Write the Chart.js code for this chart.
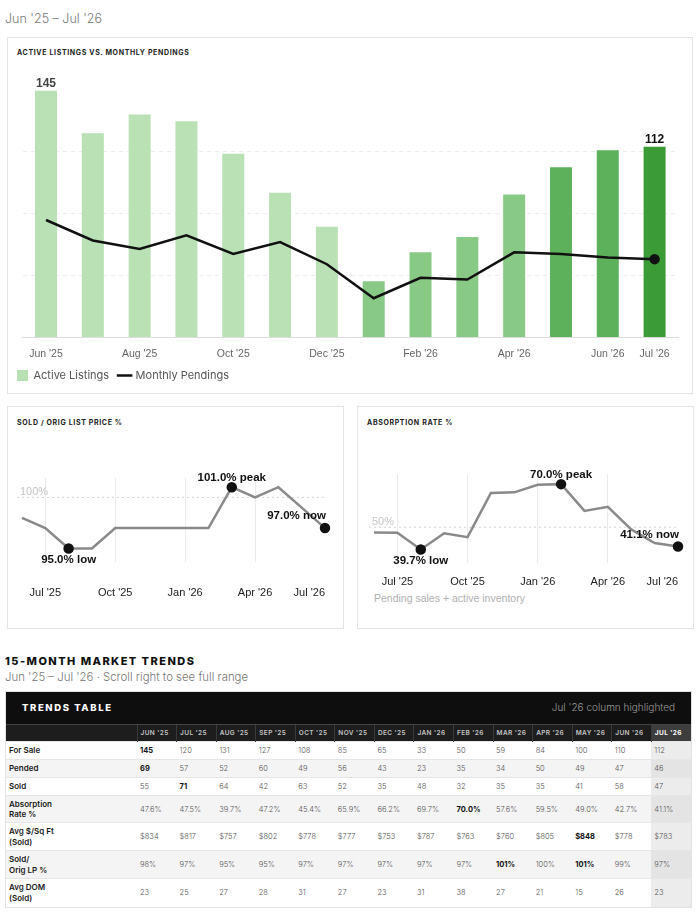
<!DOCTYPE html>
<html>
<head>
<meta charset="utf-8">
<script src="https://cdn.jsdelivr.net/npm/chart.js@4.4.1/dist/chart.umd.min.js"></script>
<style>
  body { margin: 0; width: 700px; height: 924px; background: #fff; position: relative; overflow: hidden;
         font-family: Inter, "Open Sans", sans-serif; }
  .abs { position: absolute; }
  .card { position: absolute; box-sizing: border-box; border: 1px solid #e4e4e4; background: #fff; }
  .ctitle { position: absolute; font-size: 7px; font-weight: 700; letter-spacing: 0.65px; color: #222; white-space: nowrap; }
  .range { left: 5px; top: 11px; font-size: 12.5px; font-weight: 300; color: #777; }
  .note { font-family: "Liberation Sans", Arial, sans-serif; font-size: 10.5px; color: #b0b0b0; }
  .secTitle { left: 5px; top: 654px; font-size: 11px; font-weight: 800; letter-spacing: 1.45px; color: #111; }
  .secSub { left: 5px; top: 670px; font-size: 11.4px; font-weight: 300; color: #777; }
  .tbox { left: 5px; top: 691px; width: 687px; border: 1px solid #e2e2e2; box-sizing: border-box; background: #fff; }
  .band { height: 32px; background: #0e0e0e; position: relative; }
  .band .t { position: absolute; left: 16px; top: 10px; color: #fff; font-size: 9.5px; font-weight: 800; letter-spacing: 1.6px; }
  .band .r { position: absolute; right: 16px; top: 9px; color: #9a9a9a; font-size: 10px; font-weight: 300; }
  table { border-collapse: collapse; table-layout: fixed; width: 685px; }
  th { background: #1d1d1d; color: #c4c4c4; font-size: 6.5px; font-weight: 600; letter-spacing: 0.4px; text-align: left;
       padding: 0 0 0 3px; height: 16px; border-left: 1px solid #3a3a3a; border-top: 1px solid #444; white-space: nowrap; }
  th.hl { background: #3d3d3d; color: #fff; font-weight: 700; }
  th.lab { border-left: none; }
  td { font-size: 7.5px; font-weight: 300; color: #555; padding: 0 0 0 3px; border-top: 1px solid #e6e6e6; white-space: nowrap; }
  td.lab { font-size: 8px; font-weight: 600; color: #1a1a1a; padding-left: 3px; white-space: normal; line-height: 10.5px; }
  td.b { font-weight: 700; color: #111; }
  tr.alt td { background: #f4f4f4; }
  td.hl { background: #ececec; }
  tr.alt td.hl { background: #e4e4e4; }
</style>
</head>
<body>
<div class="abs range">Jun '25 – Jul '26</div>

<div class="card" style="left:7px; top:37px; width:686px; height:357px;"></div>
<div class="ctitle" style="left:17px; top:48px;">ACTIVE LISTINGS VS. MONTHLY PENDINGS</div>
<div class="abs" style="left:7px; top:62px; width:679px; height:329px;"><canvas id="mainChart"></canvas></div>

<div class="card" style="left:7px; top:406px; width:337px; height:223px;"></div>
<div class="ctitle" style="left:17px; top:418px;">SOLD / ORIG LIST PRICE %</div>
<div class="abs" style="left:7px; top:436px; width:336px; height:164px;"><canvas id="lpChart"></canvas></div>

<div class="card" style="left:357px; top:406px; width:337px; height:223px;"></div>
<div class="ctitle" style="left:367px; top:418px;">ABSORPTION RATE %</div>
<div class="abs" style="left:357px; top:436px; width:336px; height:153px;"><canvas id="absChart"></canvas></div>
<div class="abs note" style="left:374px; top:592px;">Pending sales + active inventory</div>

<div class="abs secTitle">15-MONTH MARKET TRENDS</div>
<div class="abs secSub">Jun '25 – Jul '26 · Scroll right to see full range</div>
<div class="abs tbox">
  <div class="band"><span class="t">TRENDS TABLE</span><span class="r">Jul '26 column highlighted</span></div>
  <table id="trends"></table>
</div>

<script>
// months, Jun '25 .. Jul '26
const months = ["Jun '25", "Jul '25", "Aug '25", "Sep '25", "Oct '25", "Nov '25", "Dec '25",
                "Jan '26", "Feb '26", "Mar '26", "Apr '26", "May '26", "Jun '26", "Jul '26"];

const forSale      = [145, 120, 131, 127, 108, 85, 65, 33, 50, 59, 84, 100, 110, 112];
const pended       = [69, 57, 52, 60, 49, 56, 43, 23, 35, 34, 50, 49, 47, 46];
const sold         = [55, 71, 64, 42, 63, 52, 35, 48, 32, 35, 35, 41, 58, 47];
const absorption   = [47.6, 47.5, 39.7, 47.2, 45.4, 65.9, 66.2, 69.7, 70.0, 57.6, 59.5, 49.0, 42.7, 41.1];
const pricePerSqFt = [834, 817, 757, 802, 778, 777, 753, 787, 763, 760, 805, 848, 778, 783];
const soldToOrigLP = [98, 97, 95, 95, 97, 97, 97, 97, 97, 101, 100, 101, 99, 97];
const avgDom       = [23, 25, 27, 28, 31, 27, 23, 31, 38, 27, 21, 15, 26, 23];

const last = months.length - 1;
const tickFont = '"Liberation Sans", Arial, sans-serif';

Chart.defaults.animation = false;
Chart.defaults.font.family = tickFont;

// bar shade by period
function barShade(i) {
  if (i === last) return '#3b9b37';
  if (i >= 11) return '#5db15a';
  if (i >= 7) return '#88c985';
  return '#b9e1b5';
}

// value on first and last bar
const barValueLabels = {
  id: 'barValueLabels',
  afterDatasetsDraw(chart) {
    const { ctx } = chart;
    const meta = chart.getDatasetMeta(0);
    ctx.save();
    ctx.font = 'bold 12px ' + tickFont;
    ctx.textAlign = 'center';
    ctx.textBaseline = 'alphabetic';
    [0, last].forEach(i => {
      const bar = meta.data[i];
      ctx.fillStyle = i === last ? '#111' : '#444';
      ctx.fillText(forSale[i], bar.x, bar.y - 4);
    });
    ctx.restore();
  }
};

new Chart(document.getElementById('mainChart'), {
  data: {
    labels: months,
    datasets: [
      {
        type: 'bar',
        label: 'Active Listings',
        data: forSale,
        backgroundColor: forSale.map((v, i) => barShade(i)),
        borderWidth: 0,
        categoryPercentage: 1,
        barPercentage: 0.47,
        order: 1
      },
      {
        type: 'line',
        label: 'Monthly Pendings',
        data: pended,
        borderColor: '#111',
        backgroundColor: '#111',
        borderWidth: 2.5,
        tension: 0,
        pointRadius: ctx => ctx.dataIndex === last ? 4 : 0,
        pointHoverRadius: 0,
        order: 0
      }
    ]
  },
  options: {
    responsive: true,
    maintainAspectRatio: false,
    layout: { padding: { top: 27, right: 8, left: 0, bottom: 0 } },
    scales: {
      x: {
        grid: { display: false, drawTicks: true, tickLength: 10 },
        border: { display: true, color: '#dedede' },
        ticks: {
          color: '#666', font: { size: 10.5 }, padding: 0, autoSkip: false, maxRotation: 0,
          callback: (v, i) => (i % 2 === 0 || i === last) ? months[i] : null
        }
      },
      y: {
        min: 0, max: 146,
        afterFit: s => { s.width = 15.6; },
        ticks: { display: false, count: 5 },
        grid: { drawTicks: false, color: c => (c.tick && c.tick.value >= 146) ? 'transparent' : '#ececec' },
        border: { display: false, dash: [4, 4] }
      }
    },
    plugins: {
      legend: {
        position: 'bottom',
        align: 'start',
        labels: {
          usePointStyle: true,
          boxHeight: 12,
          padding: 10,
          color: '#555',
          font: { family: 'Inter, "Open Sans", sans-serif', size: 11 },
          sort: (a, b) => a.datasetIndex - b.datasetIndex,
          generateLabels: chart => Chart.defaults.plugins.legend.labels.generateLabels(chart)
            .map(it => Object.assign(it, { pointStyle: it.datasetIndex === 0 ? 'rect' : 'line' }))
        }
      },
      tooltip: { enabled: false }
    }
  },
  plugins: [barValueLabels]
});

// low / peak / now markers plus a dotted reference line
function trendMarkers(values, refValue, refText) {
  return {
    id: 'trendMarkers',
    beforeDatasetsDraw(chart) {
      const { ctx, chartArea, scales } = chart;
      const y = scales.y.getPixelForValue(refValue);
      ctx.save();
      ctx.strokeStyle = '#d4d4d4';
      ctx.lineWidth = 1;
      ctx.setLineDash([2, 3]);
      ctx.beginPath();
      ctx.moveTo(chartArea.left - 5, y);
      ctx.lineTo(chartArea.right, y);
      ctx.stroke();
      ctx.setLineDash([]);
      ctx.fillStyle = '#c6c6c6';
      ctx.font = '11px ' + tickFont;
      ctx.textAlign = 'left';
      ctx.textBaseline = 'alphabetic';
      ctx.fillText(refText, chartArea.left - 2, y - 2);
      ctx.restore();
    },
    afterDatasetsDraw(chart) {
      const { ctx } = chart;
      const pts = chart.getDatasetMeta(0).data;
      const lo = values.indexOf(Math.min(...values));
      const hi = values.indexOf(Math.max(...values));
      ctx.save();
      ctx.fillStyle = '#111';
      ctx.font = 'bold 11.5px ' + tickFont;
      ctx.textAlign = 'center';
      ctx.textBaseline = 'top';
      ctx.fillText(values[lo].toFixed(1) + '% low', pts[lo].x, pts[lo].y + 6);
      ctx.textBaseline = 'bottom';
      ctx.fillText(values[hi].toFixed(1) + '% peak', pts[hi].x, pts[hi].y - 4);
      ctx.textAlign = 'right';
      ctx.fillText(values[last].toFixed(1) + '% now', pts[last].x + 1, pts[last].y - 6);
      ctx.restore();
    }
  };
}

function trendChart(id, values, yMin, yMax, refValue, refText, pad, tickGap) {
  const marks = [values.indexOf(Math.min(...values)), values.indexOf(Math.max(...values)), last];
  new Chart(document.getElementById(id), {
    type: 'line',
    data: {
      labels: months,
      datasets: [{
        data: values,
        borderColor: '#8a8a8a',
        borderWidth: 2.5,
        tension: 0,
        pointRadius: ctx => marks.includes(ctx.dataIndex) ? 4 : 0,
        pointBackgroundColor: '#111',
        pointBorderColor: '#111',
        pointHoverRadius: 0
      }]
    },
    options: {
      responsive: true,
      maintainAspectRatio: false,
      layout: { padding: pad },
      scales: {
        x: {
          grid: {
            drawTicks: true, tickLength: tickGap, tickColor: 'transparent',
            color: c => (c.index % 3 === 1 && c.index !== last) ? '#ebebeb' : 'transparent'
          },
          border: { display: false },
          ticks: {
            color: '#222', font: { size: 11 }, padding: 0, autoSkip: false, maxRotation: 0, align: 'inner',
            // '' keeps the empty first tick, so only the last label is pulled inside
            callback: (v, i) => i % 3 === 1 ? months[i] : ''
          }
        },
        y: { display: false, min: yMin, max: yMax }
      },
      plugins: { legend: { display: false }, tooltip: { enabled: false } }
    },
    plugins: [trendMarkers(values, refValue, refText)]
  });
}

trendChart('lpChart', soldToOrigLP, 93.7, 101.9, 100, '100%', { top: 42, left: 15, right: 18, bottom: 0 }, 25);
trendChart('absChart', absorption, 33.5, 74.7, 50, '50%', { top: 38, left: 17, right: 15, bottom: 0 }, 13);

// trends table
const rows = [
  { label: 'For Sale', values: forSale, fmt: v => v, bold: true, h: 18 },
  { label: 'Pended', values: pended, fmt: v => v, bold: true, h: 18 },
  { label: 'Sold', values: sold, fmt: v => v, bold: true, h: 18 },
  { label: 'Absorption<br>Rate %', values: absorption, fmt: v => v.toFixed(1) + '%', bold: true, h: 27 },
  { label: 'Avg $/Sq Ft<br>(Sold)', values: pricePerSqFt, fmt: v => '$' + v, bold: true, h: 28 },
  { label: 'Sold/<br>Orig LP %', values: soldToOrigLP, fmt: v => v + '%', bold: true, h: 28 },
  { label: 'Avg DOM<br>(Sold)', values: avgDom, fmt: v => v, bold: false, h: 28 }
];

let html = '<colgroup><col style="width:131px">' + months.map(() => '<col style="width:39.57px">').join('') + '</colgroup>';
html += '<tr><th class="lab"></th>' + months.map((m, i) =>
  `<th class="${i === last ? 'hl' : ''}">${m.toUpperCase()}</th>`).join('') + '</tr>';
rows.forEach((r, ri) => {
  const top = Math.max(...r.values);
  html += `<tr class="${ri % 2 === 1 ? 'alt' : ''}" style="height:${r.h}px"><td class="lab">${r.label}</td>` +
    r.values.map((v, i) => {
      const cls = [];
      if (r.bold && v === top) cls.push('b');
      if (i === last) cls.push('hl');
      return `<td class="${cls.join(' ')}">${r.fmt(v)}</td>`;
    }).join('') + '</tr>';
});
document.getElementById('trends').innerHTML = html;
</script>
</body>
</html>
